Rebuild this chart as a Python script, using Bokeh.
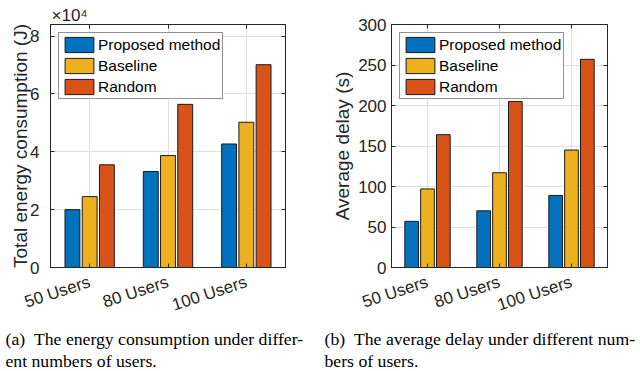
import math
from bokeh.plotting import figure
from bokeh.models import (Range1d, FixedTicker, LinearAxis, Title, Legend,
                          LegendItem, ColumnDataSource)
from bokeh.layouts import row
from bokeh.transform import dodge
from bokeh.embed import file_html
from bokeh.resources import INLINE

# ---------------- data ----------------
groups = ["50 Users", "80 Users", "100 Users"]
group_pos = [1, 2, 3]
series = ["Proposed method", "Baseline", "Random"]

energy_proposed = [20000, 33200, 42700]
energy_baseline = [24500, 38700, 50200]
energy_random = [35500, 56400, 70100]
energy_ticks = [0, 20000, 40000, 60000, 80000]
energy_tick_labels = ["0", "2", "4", "6", "8"]

delay_proposed = [57, 70, 89]
delay_baseline = [97, 117, 145]
delay_random = [164, 205, 257]
delay_ticks = [0, 50, 100, 150, 200, 250, 300]
delay_tick_labels = ["0", "50", "100", "150", "200", "250", "300"]

colors = ["#0072BD", "#EDB120", "#D95319"]
AX = "#262626"
GRID = "#dfdfdf"
SANS = "Liberation Sans"
SERIF = "Liberation Serif"


def panel(vals, ymax, ticks, tick_labels, ylabel, caption, borders,
          tick_standoff, label_standoff, cap_offset, multiplier=None):
    bl, br, bt, bb = borders
    p = figure(width=320, height=371, output_backend="svg",
               toolbar_location=None, x_range=Range1d(0.5, 3.5),
               y_range=Range1d(0, ymax), min_border_left=bl,
               min_border_right=br, min_border_top=bt, min_border_bottom=bb,
               title_location=None)
    p.outline_line_color = AX
    p.outline_line_width = 1
    p.background_fill_color = "white"
    p.border_fill_color = "white"

    src = ColumnDataSource(dict(x=group_pos, a=vals[0], b=vals[1], c=vals[2]))
    rends = []
    for key, off, col in zip(["a", "b", "c"], [-0.22, 0.0, 0.22], colors):
        r = p.vbar(x=dodge("x", off), top=key, width=0.19, bottom=0,
                   source=src, fill_color=col, line_color="#1a1a1a",
                   line_width=1)
        rends.append(r)

    # axes
    xa = p.xaxis[0]
    xa.ticker = FixedTicker(ticks=group_pos)
    xa.major_label_overrides = {k: v for k, v in zip(group_pos, groups)}
    xa.major_label_orientation = math.radians(18)
    xa.major_label_standoff = 14
    ya = p.yaxis[0]
    ya.ticker = FixedTicker(ticks=ticks)
    ya.major_label_overrides = {k: v for k, v in zip(ticks, tick_labels)}
    ya.axis_label = ylabel
    ya.axis_label_text_font = SANS
    ya.axis_label_text_font_size = "19px"
    ya.axis_label_text_font_style = "normal"
    ya.axis_label_text_color = AX
    ya.axis_label_standoff = label_standoff
    ya.major_label_standoff = tick_standoff
    for ax in (xa, ya):
        ax.axis_line_color = AX
        ax.major_tick_line_color = AX
        ax.major_tick_in = 4
        ax.major_tick_out = 0
        ax.minor_tick_line_color = None
        ax.major_label_text_font = SANS
        ax.major_label_text_font_size = "17px"
        ax.major_label_text_color = AX

    # mirrored axes (box on): ticks only
    top = LinearAxis(ticker=FixedTicker(ticks=group_pos))
    right = LinearAxis(ticker=FixedTicker(ticks=ticks))
    for ax in (top, right):
        ax.major_label_text_font_size = "1px"
        ax.major_label_text_color = None
        ax.major_label_standoff = 0
        ax.axis_line_color = AX
        ax.major_tick_line_color = AX
        ax.major_tick_in = 4
        ax.major_tick_out = 0
        ax.minor_tick_line_color = None
    p.add_layout(top, "above")
    p.add_layout(right, "right")

    if multiplier:
        p.add_layout(Title(text=multiplier, align="left", offset=1,
                           standoff=0, text_font=SANS,
                           text_font_size="17px", text_font_style="normal",
                           text_color=AX), "above")

    p.xgrid.ticker = FixedTicker(ticks=group_pos)
    p.ygrid.ticker = FixedTicker(ticks=ticks)
    for g in (p.xgrid[0], p.ygrid[0]):
        g.grid_line_color = GRID
        g.grid_line_width = 1

    legend = Legend(items=[LegendItem(label=s, renderers=[r])
                           for s, r in zip(series, rends)],
                    location="top_left")
    legend.border_line_color = AX
    legend.border_line_width = 1
    legend.background_fill_color = "white"
    legend.background_fill_alpha = 1
    legend.label_text_font = SANS
    legend.label_text_font_size = "15.5px"
    legend.label_text_color = "black"
    legend.glyph_width = 36
    legend.glyph_height = 19
    legend.label_height = 19
    legend.label_standoff = 1
    legend.spacing = 2
    legend.padding = 2
    legend.margin = 8
    p.add_layout(legend)

    # caption
    for i, line in enumerate(caption):
        p.add_layout(Title(text=line, align="left", offset=cap_offset,
                           standoff=0, text_font=SERIF,
                           text_font_size="17.7px", text_font_style="normal",
                           text_color="black"), "below")
    return p


p1 = panel([energy_proposed, energy_baseline, energy_random], 84000,
           energy_ticks, energy_tick_labels, "Total energy consumption (J)",
           ["(a)\u2002The energy consumption under differ-",
            "ent numbers of users."],
           (50, 35, 24, 104), 11, -4, -45, multiplier="×10⁴")
p2 = panel([delay_proposed, delay_baseline, delay_random], 300,
           delay_ticks, delay_tick_labels, "Average delay (s)",
           ["(b)\u2002The average delay under different num-",
            "bers of users."],
           (71, 33, 20, 104), 5, 2, -67)

layout = row(p1, p2)
open("out.html", "w").write(file_html(layout, INLINE))
